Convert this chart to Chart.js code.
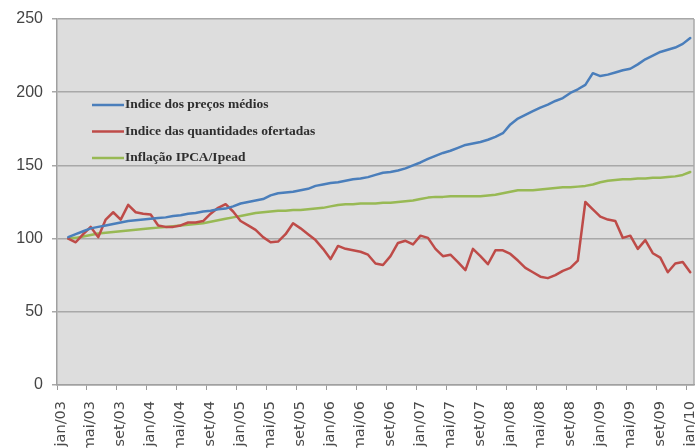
<!DOCTYPE html>
<html>
<head>
<meta charset="utf-8">
<script src="https://cdn.jsdelivr.net/npm/chart.js@4"></script>
<style>
  html, body { margin: 0; padding: 0; background: #ffffff; }
  #wrap { width: 695px; height: 448px; }
</style>
</head>
<body>
<div id="wrap"><canvas id="chart" width="695" height="448"></canvas></div>
<script>
// Monthly categories, jan/03 to jan/10
const meses = [
  'jan/03','fev/03','mar/03','abr/03','mai/03','jun/03','jul/03','ago/03','set/03','out/03','nov/03','dez/03',
  'jan/04','fev/04','mar/04','abr/04','mai/04','jun/04','jul/04','ago/04','set/04','out/04','nov/04','dez/04',
  'jan/05','fev/05','mar/05','abr/05','mai/05','jun/05','jul/05','ago/05','set/05','out/05','nov/05','dez/05',
  'jan/06','fev/06','mar/06','abr/06','mai/06','jun/06','jul/06','ago/06','set/06','out/06','nov/06','dez/06',
  'jan/07','fev/07','mar/07','abr/07','mai/07','jun/07','jul/07','ago/07','set/07','out/07','nov/07','dez/07',
  'jan/08','fev/08','mar/08','abr/08','mai/08','jun/08','jul/08','ago/08','set/08','out/08','nov/08','dez/08',
  'jan/09','fev/09','mar/09','abr/09','mai/09','jun/09','jul/09','ago/09','set/09','out/09','nov/09','dez/09',
  'jan/10'
];

// Índice dos preços médios
const precosMedios = [
  null, 101, 103, 105, 107, 108, 109, 110, 111, 112, 112.5, 113,
  113.5, 114, 114.5, 115.5, 116, 117, 117.5, 118.5, 119, 120, 120.5, 122,
  124, 125, 126, 127, 129.5, 131, 131.5, 132, 133, 134, 136, 137,
  138, 138.5, 139.5, 140.5, 141, 142, 143.5, 145, 145.5, 146.5, 148, 150,
  152, 154.5, 156.5, 158.5, 160, 162, 164, 165, 166, 167.5, 169.5, 172,
  178, 182, 184.5, 187, 189.5, 191.5, 194, 196, 199.5, 202, 205, 213,
  211, 212, 213.5, 215, 216, 219, 222.5, 225, 227.5, 229, 230.5, 233,
  237
];

// Índice das quantidades ofertadas
const quantidadesOfertadas = [
  null, 100, 97.5, 103, 108, 101, 113, 118, 113, 123, 118, 117,
  116.5, 109, 108, 108, 109, 111, 111, 112, 117, 121, 123.5, 118.5,
  112, 109, 106, 101, 97.5, 98, 103, 110.5, 107, 103, 99, 93,
  86, 95, 93, 92, 91, 89, 83, 82, 88, 97, 98.5, 96,
  102, 100.5, 93, 88, 89, 84, 78.5, 93, 88, 82.5, 92, 92,
  89.5, 85, 80, 77, 74, 73, 75, 78, 80, 85, 125, 120,
  115, 113, 112, 100.5, 102, 93, 99, 90, 87, 77, 83, 84,
  77
];

// Inflação IPCA/Ipead
const inflacao = [
  null, 100, 100.5, 101.5, 102.5, 103.5, 104, 104.5, 105, 105.5, 106, 106.5,
  107, 107.5, 108, 108.5, 109, 109.5, 110, 110.5, 111.5, 112.5, 113.5, 114.5,
  115.5, 116.5, 117.5, 118, 118.5, 119, 119, 119.5, 119.5, 120, 120.5, 121,
  122, 123, 123.5, 123.5, 124, 124, 124, 124.5, 124.5, 125, 125.5, 126,
  127, 128, 128.5, 128.5, 129, 129, 129, 129, 129, 129.5, 130, 131,
  132, 133, 133, 133, 133.5, 134, 134.5, 135, 135, 135.5, 136, 137,
  138.5, 139.5, 140, 140.5, 140.5, 141, 141, 141.5, 141.5, 142, 142.5, 143.5,
  145.5
];

const yTicks = [0, 50, 100, 150, 200, 250];

// Grey plot area with a thin frame on the right
const plotArea = {
  id: 'plotArea',
  beforeDraw(chart) {
    const { ctx, chartArea: a } = chart;
    ctx.save();
    ctx.fillStyle = '#dddddd';
    ctx.fillRect(a.left, a.top, a.right - a.left, a.bottom - a.top);
    ctx.strokeStyle = '#a8a8a8';
    ctx.lineWidth = 1.5;
    ctx.beginPath();
    ctx.moveTo(a.right, a.top);
    ctx.lineTo(a.right, a.bottom);
    ctx.stroke();
    ctx.restore();
  }
};

// Legend drawn inside the plot area, top-left
const innerLegend = {
  id: 'innerLegend',
  afterDraw(chart) {
    const { ctx, chartArea: a } = chart;
    const x0 = a.left + 35, y0 = a.top + 86, gap = 26.5;
    ctx.save();
    ctx.font = 'bold 13.5px "Liberation Serif"';
    ctx.textBaseline = 'middle';
    ctx.textAlign = 'left';
    chart.data.datasets.forEach((ds, i) => {
      const y = y0 + i * gap;
      ctx.strokeStyle = ds.borderColor;
      ctx.lineWidth = 2.5;
      ctx.beginPath();
      ctx.moveTo(x0, y);
      ctx.lineTo(x0 + 32, y);
      ctx.stroke();
      ctx.fillStyle = '#2e2e2e';
      ctx.fillText(ds.label, x0 + 33, y);
    });
    ctx.restore();
  }
};

new Chart(document.getElementById('chart'), {
  type: 'line',
  data: {
    labels: meses,
    datasets: [
      { label: 'Indice dos preços médios', data: precosMedios, borderColor: '#4a7ebb' },
      { label: 'Indice das quantidades ofertadas', data: quantidadesOfertadas, borderColor: '#be4b48' },
      { label: 'Inflação IPCA/Ipead', data: inflacao, borderColor: '#98b954' }
    ]
  },
  options: {
    responsive: false,
    animation: false,
    devicePixelRatio: 1,
    layout: { padding: { top: 19, right: 1, left: 0, bottom: 0 } },
    elements: {
      line: { borderWidth: 2.5, tension: 0, borderJoinStyle: 'round', borderCapStyle: 'round' },
      point: { radius: 0, hoverRadius: 0 }
    },
    plugins: {
      legend: { display: false },
      tooltip: { enabled: false }
    },
    scales: {
      x: {
        type: 'category',
        offset: true,
        grid: {
          offset: true,
          drawOnChartArea: false,
          drawTicks: true,
          tickLength: 5,
          color: (c) => (c.index % 4 === 0 ? '#9a9a9a' : 'rgba(0,0,0,0)'),
          lineWidth: 1
        },
        border: { display: true, color: '#a0a0a0', width: 1.5 },
        ticks: {
          autoSkip: false,
          minRotation: 90,
          maxRotation: 90,
          padding: 11,
          color: '#4a4a4a',
          font: { family: '"DejaVu Sans"', size: 14.5 },
          callback(value, index) { return index % 4 === 0 ? meses[index] : ''; }
        },
        afterFit(scale) {
          scale.height = 63;
          scale.paddingLeft = 0;
          scale.paddingRight = 0;
        }
      },
      y: {
        min: 0,
        max: 250,
        afterBuildTicks(scale) { scale.ticks = yTicks.map(v => ({ value: v })); },
        grid: {
          color: '#a8a8a8',
          lineWidth: 1.5,
          tickLength: 5
        },
        border: { display: true, color: '#a0a0a0', width: 1.5 },
        ticks: {
          padding: 9,
          color: '#444444',
          font: { family: '"Liberation Sans"', size: 16 }
        },
        afterFit(scale) {
          scale.width = 57;
          scale.paddingTop = 0;
          scale.paddingBottom = 0;
        }
      }
    }
  },
  plugins: [plotArea, innerLegend]
});
</script>
</body>
</html>
